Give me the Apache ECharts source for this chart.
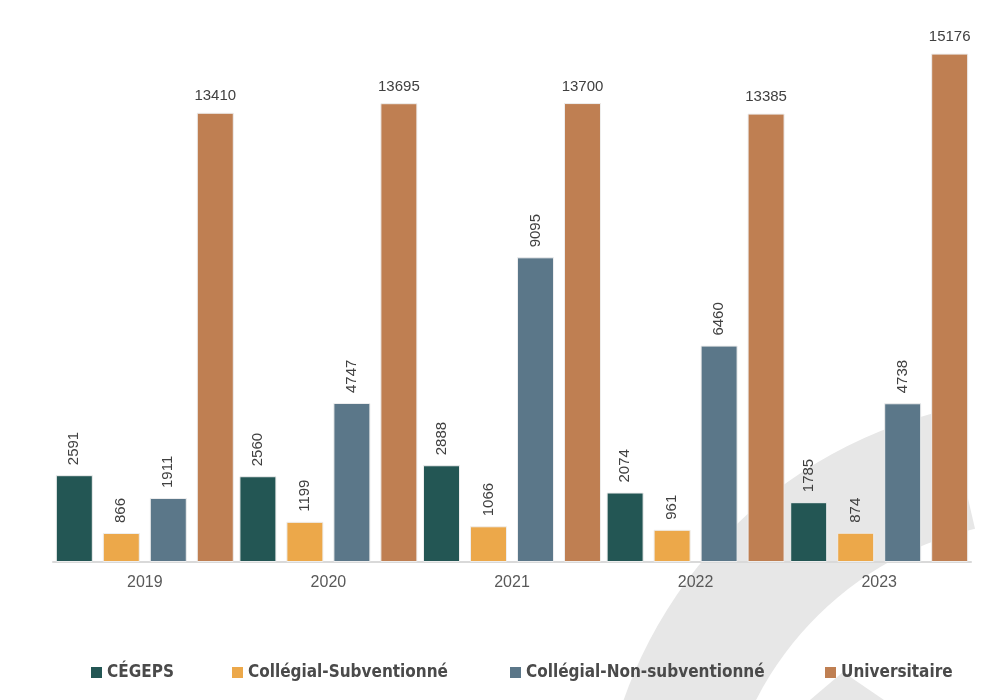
<!DOCTYPE html>
<html>
<head>
<meta charset="utf-8">
<script src="https://cdn.jsdelivr.net/npm/echarts@6/dist/echarts.min.js"></script>
<style>
  html, body { margin: 0; padding: 0; background: #fff; }
  #main { width: 1000px; height: 700px; }
</style>
</head>
<body>
<div id="main"></div>
<script>
'use strict';

// ===== données =====
var years = ['2019', '2020', '2021', '2022', '2023'];
var cegeps = [2591, 2560, 2888, 2074, 1785];
var subventionne = [866, 1199, 1066, 961, 874];
var nonSubventionne = [1911, 4747, 9095, 6460, 4738];
var universitaire = [13410, 13695, 13700, 13385, 15176];

var seriesNames = ['CÉGEPS', 'Collégial-Subventionné', 'Collégial-Non-subventionné', 'Universitaire'];
var colors = ['#235654', '#ECA84A', '#5B7789', '#BF7F52'];

var legendFont = '"Liberation Sans Narrow", "DejaVu Sans Condensed", sans-serif';
var labelFont = '"Liberation Sans", Arial, sans-serif';

// étiquettes verticales pour les petites séries
var vLabel = {
  show: true,
  position: 'top',
  rotate: 90,
  align: 'left',
  verticalAlign: 'middle',
  distance: 10,
  color: '#404040',
  fontFamily: labelFont,
  fontSize: 15
};

function legendAt(name, left) {
  return {
    data: [name],
    left: left,
    top: 659,
    itemWidth: 11,
    itemHeight: 11,
    itemGap: 0,
    icon: 'rect',
    itemStyle: { borderWidth: 0 },
    textStyle: {
      color: '#4a4a4a',
      fontFamily: legendFont,
      fontWeight: 'bold',
      fontSize: 17
    }
  };
}

function barSeries(i, values, label) {
  return {
    name: seriesNames[i],
    type: 'bar',
    data: values,
    barWidth: 37,
    barGap: '27%',
    itemStyle: { color: colors[i], borderColor: '#eeeeee', borderWidth: 1 },
    label: label
  };
}

var myChart = echarts.init(document.getElementById('main'));

var option = {
  backgroundColor: '#ffffff',
  animation: false,
  graphic: [
    {
      type: 'sector',
      z: -1,
      shape: { cx: 1050, cy: 850, r0: 330, r: 452, startAngle: -3.05, endAngle: -1.80, clockwise: true },
      style: { fill: '#e7e7e7' }
    },
    {
      type: 'polygon',
      z: -1,
      shape: { points: [[810, 700], [843, 672], [884, 700]] },
      style: { fill: '#e7e7e7' }
    }
  ],
  legend: [
    legendAt(seriesNames[0], 86),
    legendAt(seriesNames[1], 227),
    legendAt(seriesNames[2], 505),
    legendAt(seriesNames[3], 820)
  ],
  grid: { left: 53, right: 29, top: 26, bottom: 138 },
  xAxis: {
    type: 'category',
    data: years,
    axisLine: { lineStyle: { color: '#d9d9d9', width: 2 } },
    axisTick: { show: false },
    axisLabel: { color: '#595959', fontFamily: labelFont, fontSize: 16, margin: 13 }
  },
  yAxis: {
    type: 'value',
    min: 0,
    max: 16000,
    show: false,
    splitLine: { show: false }
  },
  series: [
    barSeries(0, cegeps, vLabel),
    barSeries(1, subventionne, vLabel),
    barSeries(2, nonSubventionne, vLabel),
    barSeries(3, universitaire, {
      show: true,
      position: 'top',
      distance: 9,
      color: '#404040',
      fontFamily: labelFont,
      fontSize: 15
    })
  ]
};

myChart.setOption(option);
</script>
</body>
</html>
